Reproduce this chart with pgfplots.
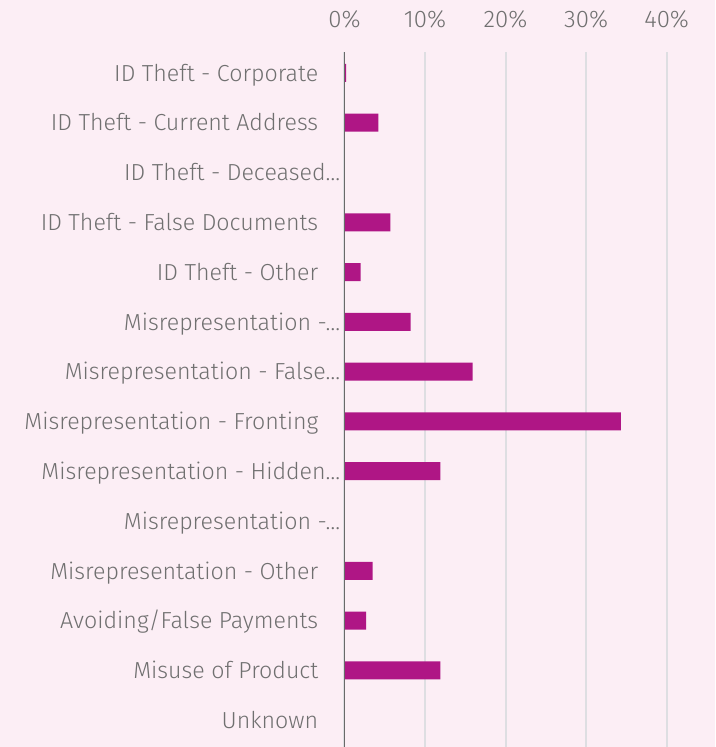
\documentclass[border=0pt]{standalone}
\usepackage{pgfplots}
\pgfplotsset{compat=1.18}
\usepackage{fontspec}
\setmainfont{Fira Sans}[UprightFont={* Light}]
\definecolor{bgpink}{RGB}{252,238,245}
\definecolor{barc}{RGB}{175,22,133}
\definecolor{labc}{RGB}{112,112,112}
\definecolor{gridc}{RGB}{222,222,226}
\definecolor{axc}{RGB}{105,105,105}
\begin{document}
\begin{tikzpicture}[x=0.75pt,y=0.75pt]
\fill[bgpink] (0pt,0pt) rectangle (536.25pt,560.25pt);
\useasboundingbox (0pt,0pt) rectangle (536.25pt,560.25pt);
\begin{axis}[
  at={(258.375pt,0pt)}, anchor=south west,
  scale only axis, width=277.875pt, height=521.25pt,
  xmin=0, xmax=46, ymin=-0.42, ymax=13.54, y dir=reverse,
  axis line style={draw=none},
  xtick={0,10,20,30,40}, xticklabels={0\%,10\%,20\%,30\%,40\%},
  xticklabel pos=top,
  xticklabel style={anchor=base, inner sep=0pt, yshift=18.75pt, text=labc, font=\fontsize{18}{21}\selectfont},
  major tick length=0pt,
  xmajorgrids, grid style={gridc, line width=1.5pt},
  ytick={0,...,13},
  yticklabels={
    ID Theft - Corporate\hspace*{16.5pt},
    ID Theft - Current Address\hspace*{16.5pt},
    ID Theft - Deceased…,
    ID Theft - False Documents\hspace*{16.5pt},
    ID Theft - Other\hspace*{16.5pt},
    Misrepresentation -…,
    Misrepresentation - False…,
    Misrepresentation - Fronting\hspace*{16.5pt},
    Misrepresentation - Hidden…,
    Misrepresentation -…,
    Misrepresentation - Other\hspace*{16.5pt},
    Avoiding/False Payments\hspace*{16.5pt},
    Misuse of Product\hspace*{16.5pt},
    Unknown\hspace*{16.5pt}},
  yticklabel style={anchor=base east, inner sep=0pt, xshift=-3pt, yshift=-6.2pt, text=labc},
  font=\fontsize{17.4}{20}\selectfont,
  /pgf/number format/assume math mode=true,
  clip=false,
]
\addplot[xbar, bar width=13.5pt, fill=barc, draw=none] coordinates {
  (0.2,0) (4.2,1) (0,2) (5.7,3) (2.0,4) (8.2,5) (15.9,6) (34.3,7)
  (11.9,8) (0,9) (3.5,10) (2.7,11) (11.9,12) (0,13)
};
\draw[axc, line width=1.2pt] (axis cs:0,-0.42) -- (axis cs:0,13.54);
\end{axis}
\end{tikzpicture}
\end{document}
